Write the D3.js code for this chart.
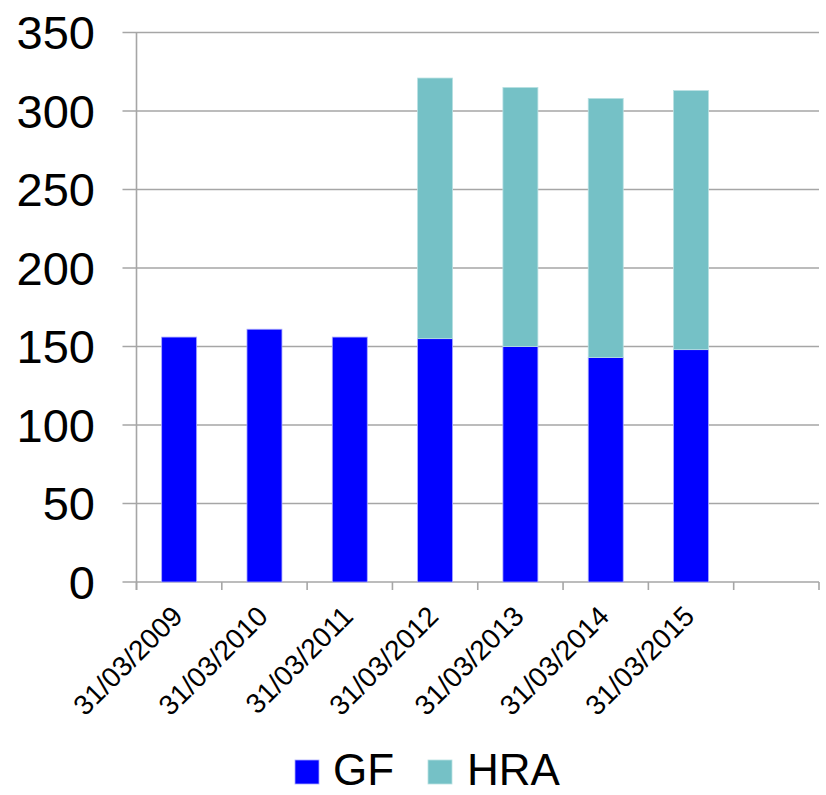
<!DOCTYPE html>
<html>
<head>
<meta charset="utf-8">
<script src="https://cdn.jsdelivr.net/npm/d3@7/dist/d3.min.js"></script>
<style>
  html, body { margin: 0; padding: 0; background: #fff; }
  svg { display: block; font-family: "Liberation Sans", Arial, sans-serif; }
</style>
</head>
<body>
<svg id="chart" width="826" height="795"></svg>
<script>
const categories = ["31/03/2009", "31/03/2010", "31/03/2011", "31/03/2012", "31/03/2013", "31/03/2014", "31/03/2015", ""];
const gfValues  = [156, 161, 156, 155, 150, 143, 148, null];
const hraValues = [0, 0, 0, 166, 165, 165, 165, null];
const seriesNames = ["GF", "HRA"];
const seriesColors = ["#0000ff", "#75c1c6"];
const yTicks = [0, 50, 100, 150, 200, 250, 300, 350];

(function () {
const svg = d3.select("#chart");
const plotLeft = 136.5, plotRight = 819, plotTop = 32.5, plotBottom = 582;

const x = d3.scaleBand().domain(categories.map((c, i) => i)).range([plotLeft, plotRight]).padding(0);
const y = d3.scaleLinear().domain([0, 350]).range([plotBottom, plotTop]);
const step = x.step();
const barW = step * 0.41;

// gridlines + y tick marks
svg.append("g").selectAll("line").data(yTicks).join("line")
  .attr("x1", plotLeft - 14).attr("x2", plotRight)
  .attr("y1", d => y(d)).attr("y2", d => y(d))
  .attr("stroke", "#a6a6a6").attr("stroke-width", 1.6);

// y labels
svg.append("g").selectAll("text").data(yTicks).join("text")
  .attr("x", 95).attr("y", d => y(d))
  .attr("dy", "0.36em")
  .attr("text-anchor", "end")
  .attr("font-size", 47)
  .attr("fill", "#000")
  .text(d => d);

// vertical axis
svg.append("line")
  .attr("x1", plotLeft).attr("x2", plotLeft).attr("y1", plotTop).attr("y2", plotBottom + 8)
  .attr("stroke", "#a6a6a6").attr("stroke-width", 1.6);

// x tick marks at band boundaries
const bounds = d3.range(categories.length + 1).map(i => plotLeft + i * step);
svg.append("g").selectAll("line").data(bounds).join("line")
  .attr("x1", d => d).attr("x2", d => d).attr("y1", plotBottom).attr("y2", plotBottom + 8)
  .attr("stroke", "#a6a6a6").attr("stroke-width", 1.6);

// stacked data
const rows = categories.map((c, i) => ({ i, GF: gfValues[i] || 0, HRA: hraValues[i] || 0 }));
const stack = d3.stack().keys(seriesNames)(rows);

const barsG = svg.append("g");
stack.forEach((layer, li) => {
  barsG.append("g").selectAll("rect")
    .data(layer.filter(d => d[1] - d[0] > 0))
    .join("rect")
    .attr("x", d => x(d.data.i) + (step - barW) / 2)
    .attr("width", barW)
    .attr("y", d => y(d[1]))
    .attr("height", d => y(d[0]) - y(d[1]))
    .attr("fill", seriesColors[li])
    .attr("stroke", li === 0 ? "#a8a8ff" : "#b8e0e2")
    .attr("stroke-width", 0.8);
});

// x labels rotated
svg.append("g").selectAll("text").data(categories.filter(c => c)).join("text")
  .attr("transform", (d, i) => `translate(${x(i) + step / 2 + 5},${plotBottom + 36}) rotate(-45)`)
  .attr("text-anchor", "end")
  .attr("font-size", 28)
  .attr("fill", "#000")
  .text(d => d);

// legend
const legend = svg.append("g");
const legendItems = [
  { name: seriesNames[0], color: seriesColors[0], sx: 295, tx: 333, edge: "#a8a8ff" },
  { name: seriesNames[1], color: seriesColors[1], sx: 428, tx: 467, edge: "#b8e0e2" }
];
legendItems.forEach(it => {
  legend.append("rect").attr("x", it.sx).attr("y", 760).attr("width", 24).attr("height", 24)
    .attr("fill", it.color).attr("stroke", it.edge).attr("stroke-width", 0.8);
  legend.append("text").attr("x", it.tx).attr("y", 785).attr("font-size", 44).attr("fill", "#000").text(it.name);
});
})();
</script>
</body>
</html>
